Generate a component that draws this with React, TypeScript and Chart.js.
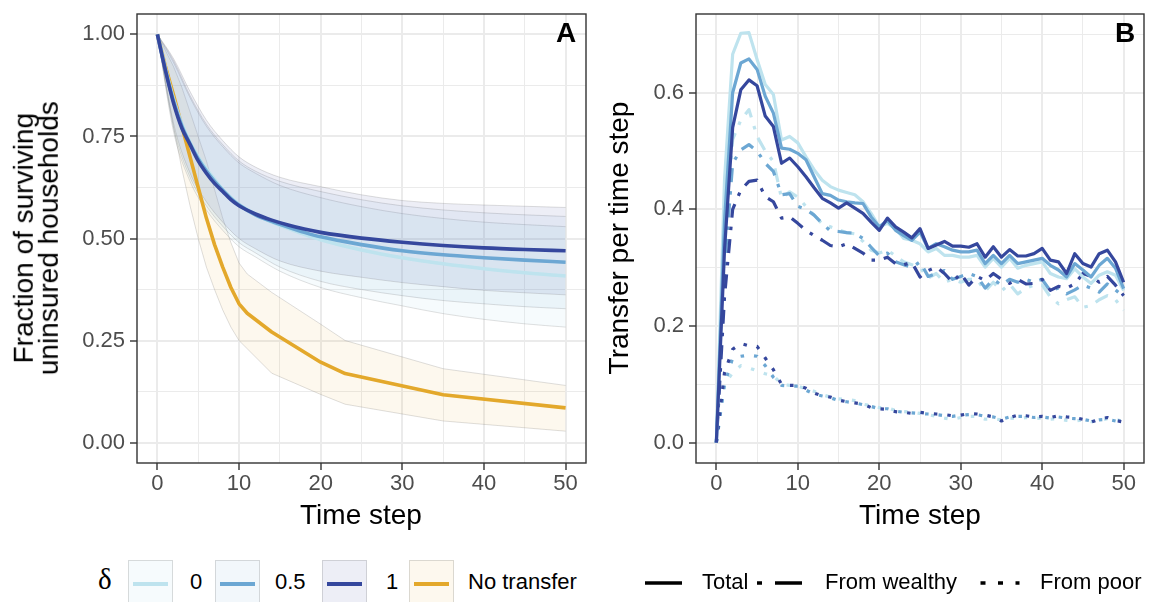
import React, { useEffect, useRef } from "react";
import { Chart, registerables } from "chart.js";

Chart.register(...registerables);

// ---------------- DATA ----------------
// Panel A: fraction of surviving uninsured households
const T_A = [0, 1, 2, 3, 4, 5, 6, 7, 8, 9, 10, 12, 14, 16, 18, 20, 25, 30, 35, 40, 45, 50];
const MEAN_D0 = [1.0, 0.915, 0.84, 0.78, 0.735, 0.70, 0.67, 0.645, 0.62, 0.60, 0.583, 0.56, 0.54, 0.525, 0.51, 0.497, 0.472, 0.453, 0.438, 0.426, 0.416, 0.408];
const MEAN_D05 = [1.0, 0.912, 0.835, 0.775, 0.732, 0.695, 0.665, 0.64, 0.618, 0.598, 0.582, 0.558, 0.542, 0.528, 0.515, 0.504, 0.485, 0.47, 0.46, 0.453, 0.447, 0.442];
const MEAN_D1 = [1.0, 0.91, 0.83, 0.77, 0.73, 0.69, 0.66, 0.635, 0.615, 0.595, 0.58, 0.56, 0.545, 0.533, 0.523, 0.515, 0.501, 0.491, 0.483, 0.477, 0.473, 0.47];

const T_RIB = [0, 2, 4, 6, 8, 10, 12, 15, 20, 25, 30, 35, 40, 45, 50];
const UP_D1 = [1.0, 0.94, 0.86, 0.79, 0.74, 0.70, 0.675, 0.65, 0.627, 0.607, 0.593, 0.586, 0.582, 0.579, 0.576];
const UP_D05 = [1.0, 0.935, 0.85, 0.78, 0.73, 0.69, 0.665, 0.64, 0.615, 0.595, 0.58, 0.57, 0.563, 0.558, 0.554];
const UP_D0 = [1.0, 0.93, 0.845, 0.775, 0.725, 0.685, 0.66, 0.63, 0.60, 0.578, 0.561, 0.549, 0.54, 0.534, 0.529];
const LO_D1 = [1.0, 0.78, 0.66, 0.59, 0.54, 0.50, 0.475, 0.445, 0.42, 0.405, 0.392, 0.382, 0.373, 0.367, 0.362];
const LO_D05 = [1.0, 0.77, 0.65, 0.58, 0.53, 0.49, 0.465, 0.43, 0.395, 0.375, 0.36, 0.348, 0.34, 0.333, 0.328];
const LO_D0 = [1.0, 0.76, 0.64, 0.57, 0.52, 0.48, 0.455, 0.42, 0.38, 0.355, 0.335, 0.316, 0.302, 0.291, 0.283];

const T_NT = [0, 1, 2, 3, 4, 5, 6, 7, 8, 9, 10, 11, 14, 20, 23, 35, 50];
const MEAN_NT = [1.0, 0.92, 0.85, 0.775, 0.70, 0.625, 0.55, 0.485, 0.43, 0.38, 0.34, 0.317, 0.271, 0.197, 0.169, 0.117, 0.085];
const UP_NT = [1.0, 0.96, 0.92, 0.87, 0.81, 0.75, 0.69, 0.62, 0.55, 0.49, 0.44, 0.413, 0.368, 0.29, 0.25, 0.181, 0.14];
const LO_NT = [1.0, 0.88, 0.77, 0.67, 0.58, 0.50, 0.43, 0.375, 0.325, 0.283, 0.25, 0.23, 0.17, 0.118, 0.094, 0.053, 0.028];

// Panel B: transfer per time step (t = 0..50)
const T_B = Array.from({ length: 51 }, (_, i) => i);
const TOT_D1 = [0, 0.33, 0.54, 0.605, 0.622, 0.612, 0.56, 0.542, 0.479, 0.488, 0.473, 0.456, 0.437, 0.419, 0.411, 0.402, 0.411, 0.402, 0.393, 0.378, 0.364, 0.385, 0.37, 0.361, 0.351, 0.367, 0.333, 0.339, 0.345, 0.337, 0.337, 0.335, 0.341, 0.318, 0.336, 0.318, 0.331, 0.32, 0.32, 0.324, 0.333, 0.313, 0.31, 0.29, 0.324, 0.307, 0.301, 0.324, 0.33, 0.31, 0.275];
const TOT_D05 = [0, 0.38, 0.6, 0.651, 0.658, 0.64, 0.594, 0.565, 0.505, 0.503, 0.496, 0.485, 0.456, 0.427, 0.424, 0.416, 0.413, 0.411, 0.41, 0.387, 0.37, 0.381, 0.364, 0.355, 0.347, 0.361, 0.333, 0.341, 0.336, 0.33, 0.327, 0.327, 0.33, 0.307, 0.321, 0.307, 0.321, 0.307, 0.31, 0.313, 0.316, 0.304, 0.296, 0.284, 0.307, 0.296, 0.284, 0.304, 0.316, 0.299, 0.264];
const TOT_D0 = [0, 0.45, 0.666, 0.702, 0.703, 0.657, 0.614, 0.597, 0.519, 0.525, 0.514, 0.49, 0.468, 0.45, 0.439, 0.433, 0.429, 0.425, 0.413, 0.393, 0.37, 0.376, 0.367, 0.35, 0.347, 0.341, 0.327, 0.333, 0.321, 0.321, 0.318, 0.318, 0.321, 0.301, 0.316, 0.301, 0.316, 0.299, 0.304, 0.307, 0.31, 0.29, 0.284, 0.281, 0.298, 0.284, 0.273, 0.287, 0.293, 0.287, 0.261];
const WEA_D1 = [0, 0.25, 0.4, 0.433, 0.448, 0.45, 0.422, 0.413, 0.385, 0.387, 0.376, 0.364, 0.355, 0.347, 0.338, 0.336, 0.341, 0.333, 0.325, 0.313, 0.313, 0.318, 0.307, 0.305, 0.309, 0.284, 0.295, 0.301, 0.29, 0.275, 0.29, 0.27, 0.285, 0.278, 0.29, 0.28, 0.273, 0.28, 0.272, 0.273, 0.28, 0.261, 0.268, 0.265, 0.272, 0.29, 0.285, 0.275, 0.285, 0.27, 0.252];
const WEA_D05 = [0, 0.3, 0.479, 0.502, 0.511, 0.5, 0.479, 0.465, 0.425, 0.427, 0.405, 0.4, 0.39, 0.376, 0.363, 0.362, 0.36, 0.359, 0.35, 0.335, 0.32, 0.325, 0.31, 0.305, 0.3, 0.31, 0.285, 0.29, 0.295, 0.28, 0.285, 0.29, 0.285, 0.265, 0.28, 0.27, 0.28, 0.275, 0.28, 0.275, 0.28, 0.26, 0.265, 0.255, 0.262, 0.27, 0.265, 0.258, 0.272, 0.262, 0.25];
const WEA_D0 = [0, 0.33, 0.52, 0.553, 0.571, 0.525, 0.5, 0.482, 0.419, 0.43, 0.421, 0.405, 0.39, 0.375, 0.37, 0.365, 0.36, 0.358, 0.345, 0.33, 0.325, 0.33, 0.32, 0.31, 0.305, 0.3, 0.282, 0.29, 0.275, 0.28, 0.275, 0.28, 0.28, 0.26, 0.275, 0.26, 0.272, 0.255, 0.265, 0.27, 0.27, 0.25, 0.238, 0.245, 0.25, 0.232, 0.235, 0.245, 0.252, 0.245, 0.227];
const POOR_D1 = [0, 0.12, 0.16, 0.17, 0.166, 0.165, 0.145, 0.125, 0.1, 0.098, 0.098, 0.093, 0.085, 0.08, 0.078, 0.073, 0.07, 0.068, 0.066, 0.06, 0.058, 0.057, 0.053, 0.052, 0.05, 0.052, 0.05, 0.049, 0.048, 0.046, 0.047, 0.05, 0.049, 0.047, 0.044, 0.037, 0.043, 0.047, 0.046, 0.044, 0.045, 0.043, 0.046, 0.044, 0.043, 0.04, 0.035, 0.04, 0.043, 0.038, 0.035];
const POOR_D05 = [0, 0.1, 0.145, 0.148, 0.15, 0.148, 0.132, 0.112, 0.098, 0.097, 0.097, 0.09, 0.083, 0.08, 0.077, 0.072, 0.07, 0.068, 0.065, 0.062, 0.058, 0.058, 0.054, 0.052, 0.051, 0.05, 0.049, 0.048, 0.046, 0.045, 0.047, 0.048, 0.048, 0.045, 0.044, 0.04, 0.044, 0.045, 0.045, 0.043, 0.044, 0.042, 0.044, 0.042, 0.041, 0.04, 0.037, 0.039, 0.04, 0.037, 0.034];
const POOR_D0 = [0, 0.1, 0.12, 0.132, 0.128, 0.123, 0.118, 0.115, 0.1, 0.098, 0.097, 0.092, 0.088, 0.082, 0.078, 0.075, 0.074, 0.072, 0.066, 0.063, 0.06, 0.06, 0.055, 0.053, 0.052, 0.05, 0.048, 0.045, 0.042, 0.04, 0.043, 0.045, 0.045, 0.04, 0.041, 0.039, 0.042, 0.041, 0.043, 0.041, 0.042, 0.04, 0.041, 0.038, 0.037, 0.039, 0.036, 0.038, 0.041, 0.04, 0.036];

// Ticks
const X_GRID = [0, 5, 10, 15, 20, 25, 30, 35, 40, 45, 50];
const X_LABELS = ["0", "10", "20", "30", "40", "50"];
const YA_GRID = [0, 0.125, 0.25, 0.375, 0.5, 0.625, 0.75, 0.875, 1.0];
const YA_LABELS = ["0.00", "0.25", "0.50", "0.75", "1.00"];
const YB_GRID = [0, 0.1, 0.2, 0.3, 0.4, 0.5, 0.6, 0.7];
const YB_LABELS = ["0.0", "0.2", "0.4", "0.6"];

const DELTA_LABELS = ["0", "0.5", "1", "No transfer"];
const TYPE_LABELS = ["Total", "From wealthy", "From poor"];

// ---------------- STYLE ----------------
const FONT = "'Liberation Sans', Arial, Helvetica, sans-serif";
const C0 = "#BEE3EE";
const C05 = "#6CA7D3";
const C1 = "#35479D";
const CNT = "#E3A82B";
const RIB_ALPHA = 0.09;
const RIB_BORDER = "rgba(120,120,120,0.35)";
const DASH_DOT = [3.5, 9, 14, 9];
const DOTTED = [3.5, 10];

function rgba(hex: string, a: number) {
  const n = parseInt(hex.slice(1), 16);
  return `rgba(${(n >> 16) & 255},${(n >> 8) & 255},${n & 255},${a})`;
}
function pts(xs: number[], ys: number[]) {
  return xs.map((x, i) => ({ x, y: ys[i] }));
}
function near(v: number, list: number[]) {
  return list.some((l) => Math.abs(l - v) < 1e-6);
}

const framePlugin = {
  id: "frame",
  afterDraw(chart: any) {
    const { ctx, chartArea: a } = chart;
    ctx.save();
    ctx.strokeStyle = "#333333";
    ctx.lineWidth = 1.4;
    ctx.strokeRect(a.left, a.top, a.right - a.left, a.bottom - a.top);
    ctx.restore();
  },
};

function zeroPad(s: any) {
  s.paddingTop = 0;
  s.paddingBottom = 0;
  s.paddingLeft = 0;
  s.paddingRight = 0;
}

function makeScales(yGrid: number[], yLabels: string[], yMin: number, yMax: number, yWidth: number) {
  const xMajor = X_LABELS.map(Number);
  const yMajor = yLabels.map(Number);
  return {
    x: {
      type: "linear",
      min: -2.5,
      max: 52.5,
      afterBuildTicks: (s: any) => {
        s.ticks = X_GRID.map((v) => ({ value: v }));
      },
      afterFit: (s: any) => {
        s.height = 37;
        zeroPad(s);
      },
      border: { display: false },
      grid: {
        color: "#EBEBEB",
        lineWidth: (c: any) => (c.tick && near(c.tick.value, xMajor) ? 2 : 1),
        tickColor: (c: any) => (c.tick && near(c.tick.value, xMajor) ? "#333333" : "rgba(0,0,0,0)"),
        tickWidth: 1.4,
        tickLength: 7,
      },
      ticks: {
        autoSkip: false,
        maxRotation: 0,
        padding: 1,
        color: "#4D4D4D",
        font: { family: FONT, size: 22 },
        callback: (v: any) => {
          const i = xMajor.findIndex((m) => Math.abs(m - v) < 1e-6);
          return i >= 0 ? X_LABELS[i] : "";
        },
      },
    },
    y: {
      type: "linear",
      min: yMin,
      max: yMax,
      afterBuildTicks: (s: any) => {
        s.ticks = yGrid.map((v) => ({ value: v }));
      },
      afterFit: (s: any) => {
        s.width = yWidth;
        zeroPad(s);
      },
      border: { display: false },
      grid: {
        color: "#EBEBEB",
        lineWidth: (c: any) => (c.tick && near(c.tick.value, yMajor) ? 2 : 1),
        tickColor: (c: any) => (c.tick && near(c.tick.value, yMajor) ? "#333333" : "rgba(0,0,0,0)"),
        tickWidth: 1.4,
        tickLength: 7,
      },
      ticks: {
        autoSkip: false,
        padding: 5,
        color: "#4D4D4D",
        font: { family: FONT, size: 22 },
        callback: (v: any) => {
          const i = yMajor.findIndex((m) => Math.abs(m - v) < 1e-6);
          return i >= 0 ? yLabels[i] : "";
        },
      },
    },
  };
}

function ribbon(xs: number[], ys: number[], color: string, fillTo: number | false, order: number, smooth: boolean) {
  return {
    data: pts(xs, ys),
    borderColor: RIB_BORDER,
    borderWidth: 0.7,
    backgroundColor: color,
    fill: fillTo === false ? false : fillTo,
    pointRadius: 0,
    cubicInterpolationMode: smooth ? "monotone" : "default",
    tension: 0,
    order,
  };
}
function meanLine(xs: number[], ys: number[], color: string, order: number, smooth: boolean, width = 3.6) {
  return {
    data: pts(xs, ys),
    borderColor: color,
    borderWidth: width,
    fill: false,
    pointRadius: 0,
    cubicInterpolationMode: smooth ? "monotone" : "default",
    tension: 0,
    borderJoinStyle: "round",
    order,
  };
}

function PanelA() {
  const ref = useRef<HTMLCanvasElement>(null);
  useEffect(() => {
    const datasets: any[] = [
      ribbon(T_RIB, UP_D1, rgba(C1, RIB_ALPHA), 1, 20, true),
      ribbon(T_RIB, LO_D1, "transparent", false, 20, true),
      ribbon(T_RIB, UP_D05, rgba(C05, RIB_ALPHA), 3, 20, true),
      ribbon(T_RIB, LO_D05, "transparent", false, 20, true),
      ribbon(T_RIB, UP_D0, rgba(C0, RIB_ALPHA + 0.05), 5, 20, true),
      ribbon(T_RIB, LO_D0, "transparent", false, 20, true),
      ribbon(T_NT, UP_NT, rgba(CNT, 0.08), 7, 20, false),
      ribbon(T_NT, LO_NT, "transparent", false, 20, false),
      meanLine(T_NT, MEAN_NT, CNT, 4, false),
      meanLine(T_A, MEAN_D0, C0, 3, true),
      meanLine(T_A, MEAN_D05, C05, 2, true),
      meanLine(T_A, MEAN_D1, C1, 1, true),
    ];
    const chart = new Chart(ref.current as HTMLCanvasElement, {
      type: "line",
      data: { datasets },
      options: {
        responsive: false,
        animation: false,
        devicePixelRatio: 1,
        layout: { padding: { top: 14, right: 9, left: 0, bottom: 0 } },
        plugins: { legend: { display: false }, tooltip: { enabled: false } },
        scales: makeScales(YA_GRID, YA_LABELS, -0.05, 1.05, 137) as any,
      },
      plugins: [framePlugin],
    } as any);
    return () => chart.destroy();
  }, []);
  return <canvas ref={ref} width={595} height={500} style={{ position: "absolute", left: 0, top: 0 }} />;
}

function bLine(ys: number[], color: string, dash: number[], order: number) {
  return {
    data: pts(T_B, ys),
    borderColor: color,
    borderWidth: 3.2,
    borderDash: dash,
    fill: false,
    pointRadius: 0,
    tension: 0,
    borderJoinStyle: "round",
    borderCapStyle: "butt",
    order,
  };
}

function PanelB() {
  const ref = useRef<HTMLCanvasElement>(null);
  useEffect(() => {
    const datasets: any[] = [
      bLine(TOT_D1, C1, [], 1),
      bLine(TOT_D05, C05, [], 2),
      bLine(TOT_D0, C0, [], 3),
      bLine(WEA_D1, C1, DASH_DOT, 4),
      bLine(WEA_D05, C05, DASH_DOT, 5),
      bLine(WEA_D0, C0, DASH_DOT, 6),
      bLine(POOR_D1, C1, DOTTED, 7),
      bLine(POOR_D05, C05, DOTTED, 8),
      bLine(POOR_D0, C0, DOTTED, 9),
    ];
    const chart = new Chart(ref.current as HTMLCanvasElement, {
      type: "line",
      data: { datasets },
      options: {
        responsive: false,
        animation: false,
        devicePixelRatio: 1,
        layout: { padding: { top: 14, right: 6, left: 0, bottom: 0 } },
        plugins: { legend: { display: false }, tooltip: { enabled: false } },
        scales: makeScales(YB_GRID, YB_LABELS, -0.035, 0.735, 96) as any,
      },
      plugins: [framePlugin],
    } as any);
    return () => chart.destroy();
  }, []);
  return <canvas ref={ref} width={550} height={500} style={{ position: "absolute", left: 600, top: 0 }} />;
}

const txt = (extra: React.CSSProperties): React.CSSProperties => ({
  position: "absolute",
  fontFamily: FONT,
  whiteSpace: "nowrap",
  color: "#000",
  ...extra,
});

function KeyBox({ left, fill, color }: { left: number; fill: string; color: string }) {
  return (
    <div
      style={{
        position: "absolute",
        left,
        top: 560,
        width: 45,
        height: 46,
        boxSizing: "border-box",
        background: fill,
        border: "1px solid rgba(120,120,120,0.25)",
      }}
    >
      <div style={{ position: "absolute", left: 4, right: 4, top: 21, height: 3.6, background: color }} />
    </div>
  );
}

function blend(hex: string, a: number) {
  const n = parseInt(hex.slice(1), 16);
  const f = (c: number) => Math.round(255 - a * (255 - c));
  return `rgb(${f((n >> 16) & 255)},${f((n >> 8) & 255)},${f(n & 255)})`;
}

export default function App() {
  const legendTop = 571;
  return (
    <div style={{ position: "fixed", left: 0, top: 0, width: 1150, height: 602, overflow: "hidden", background: "#fff" }}>
      <PanelA />
      <PanelB />
      {/* panel tags */}
      <div style={txt({ left: 556, top: 19, fontSize: 28, lineHeight: "28px", fontWeight: 700 })}>A</div>
      <div style={txt({ left: 1115, top: 19, fontSize: 28, lineHeight: "28px", fontWeight: 700 })}>B</div>
      {/* x titles */}
      <div style={txt({ left: 161, width: 400, top: 501, fontSize: 28, lineHeight: "28px", textAlign: "center" })}>Time step</div>
      <div style={txt({ left: 720, width: 400, top: 501, fontSize: 28, lineHeight: "28px", textAlign: "center" })}>Time step</div>
      {/* y titles */}
      <div
        style={txt({
          left: 36 - 225,
          top: 238 - 25.2,
          width: 450,
          height: 50.4,
          fontSize: 28,
          lineHeight: "25.2px",
          textAlign: "center",
          transform: "rotate(-90deg)",
          transformOrigin: "50% 50%",
        })}
      >
        Fraction of surviving
        <br />
        uninsured households
      </div>
      <div
        style={txt({
          left: 618.6 - 225,
          top: 238 - 14,
          width: 450,
          height: 28,
          fontSize: 28,
          lineHeight: "28px",
          textAlign: "center",
          transform: "rotate(-90deg)",
          transformOrigin: "50% 50%",
        })}
      >
        Transfer per time step
      </div>
      {/* left legend */}
      <div style={txt({ left: 98, top: 565, fontSize: 29, lineHeight: "29px", fontFamily: "'Liberation Serif', 'DejaVu Serif', serif" })}>δ</div>
      <KeyBox left={128} fill={blend(C0, RIB_ALPHA + 0.05)} color={C0} />
      <div style={txt({ left: 190, top: legendTop, fontSize: 22, lineHeight: "22px" })}>{DELTA_LABELS[0]}</div>
      <KeyBox left={215} fill={blend(C05, RIB_ALPHA)} color={C05} />
      <div style={txt({ left: 275, top: legendTop, fontSize: 22, lineHeight: "22px" })}>{DELTA_LABELS[1]}</div>
      <KeyBox left={322} fill={blend(C1, RIB_ALPHA)} color={C1} />
      <div style={txt({ left: 386, top: legendTop, fontSize: 22, lineHeight: "22px" })}>{DELTA_LABELS[2]}</div>
      <KeyBox left={409} fill={blend(CNT, 0.08)} color={CNT} />
      <div style={txt({ left: 468, top: legendTop, fontSize: 22, lineHeight: "22px" })}>{DELTA_LABELS[3]}</div>
      {/* right legend */}
      <svg style={{ position: "absolute", left: 0, top: 0 }} width={1150} height={602}>
        <line x1={645} x2={682} y1={583} y2={583} stroke="#000" strokeWidth={3.6} />
        <line x1={757} x2={802} y1={583} y2={583} stroke="#000" strokeWidth={3.6} strokeDasharray="5 13 27 10" />
        <line x1={980.5} x2={1019.5} y1={583} y2={583} stroke="#000" strokeWidth={3.6} strokeDasharray="5 12.5" />
      </svg>
      <div style={txt({ left: 702, top: legendTop, fontSize: 22, lineHeight: "22px" })}>{TYPE_LABELS[0]}</div>
      <div style={txt({ left: 825, top: legendTop, fontSize: 22, lineHeight: "22px" })}>{TYPE_LABELS[1]}</div>
      <div style={txt({ left: 1040, top: legendTop, fontSize: 22, lineHeight: "22px" })}>{TYPE_LABELS[2]}</div>
    </div>
  );
}
